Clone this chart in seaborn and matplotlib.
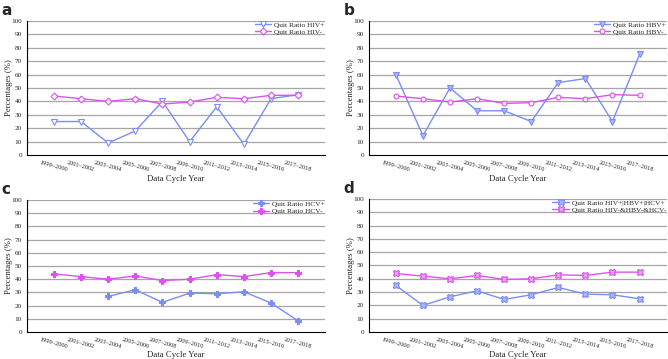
import numpy as np
import pandas as pd
import seaborn as sns
import matplotlib
matplotlib.use("Agg")
import matplotlib.pyplot as plt

cycles = ["1999\u20132000", "2001\u20132002", "2003\u20132004", "2005\u20132006", "2007\u20132008",
          "2009\u20132010", "2011\u20132012", "2013\u20132014", "2015\u20132016", "2017\u20132018"]

hiv_pos = [25, 25, 9, 18, 40, 10, 36, 8, 42, 45]
hiv_neg = [44, 42, 40, 42, 38, 39.5, 43, 42, 44.5, 44.5]
hbv_pos = [60, 14.5, 50, 33, 33, 25, 54, 57, 25, 75]
hbv_neg = [44, 42, 39.5, 42, 38.5, 39, 43, 42, 45, 44.5]
hcv_pos = [np.nan, np.nan, 27, 32, 22.5, 29.5, 29, 30.5, 22, 8.5]
hcv_neg = [44, 42, 40, 42.5, 39, 40, 43.5, 42, 45, 45]
any_pos = [35, 20, 26.5, 31, 24.5, 28, 33.5, 28.5, 28, 25]
all_neg = [44, 42, 40, 42.5, 39.5, 40, 43, 42.5, 45, 45]

blue = "#7b8df7"
magenta = "#dc52ef"

sns.set_style("white")
plt.rcParams["font.family"] = ["Liberation Serif", "DejaVu Serif"]

fig = plt.figure(figsize=(6.68, 3.59), dpi=100)

panels = [
    ("a", [0.040, 0.568, 0.447, 0.374], hiv_pos, hiv_neg, "Quit Ratio HIV+", "Quit Ratio HIV-",
     dict(marker="v", mfc="white", ms=4), dict(marker="D", mfc="white", ms=3.5)),
    ("b", [0.552, 0.568, 0.446, 0.374], hbv_pos, hbv_neg, "Quit Ratio HBV+", "Quit Ratio HBV-",
     dict(marker="v", mfc="#aab6fa", ms=4), dict(marker="o", mfc="white", ms=3.5)),
    ("c", [0.040, 0.075, 0.447, 0.368], hcv_pos, hcv_neg, "Quit Ratio HCV+", "Quit Ratio HCV-",
     dict(marker="P", mfc=blue, ms=4.5), dict(marker="P", mfc=magenta, ms=4.5)),
    ("d", [0.552, 0.075, 0.446, 0.371], any_pos, all_neg, "Quit Ratio HIV+|HBV+|HCV+", "Quit Ratio HIV-&HBV-&HCV-",
     dict(marker="X", mfc="#aab6fa", ms=4.5), dict(marker="X", mfc="#eba2f6", ms=4.5)),
]

x = np.arange(len(cycles))

for letter, rect, pos, neg, lab_pos, lab_neg, mk_pos, mk_neg in panels:
    ax = fig.add_axes(rect)
    for y in range(10, 101, 10):
        ax.axhline(y, color="#a6a6a6", lw=0.9, zorder=0)
    sns.lineplot(x=x, y=pos, ax=ax, color=blue, lw=1.0, label=lab_pos,
                 mec=blue, mew=0.8, **mk_pos)
    sns.lineplot(x=x, y=neg, ax=ax, color=magenta, lw=1.0, label=lab_neg,
                 mec=magenta, mew=0.8, **mk_neg)
    ax.set_xlim(-1, 10)
    ax.set_ylim(0, 100)
    ax.set_yticks(range(0, 101, 10))
    ax.set_yticklabels([str(v) for v in range(0, 101, 10)], fontsize=5.2)
    ax.set_xticks(list(x) + [10])
    ax.set_xticklabels(cycles + [""], fontsize=4.6, rotation=-15, ha="center")
    ax.tick_params(axis="both", direction="out", length=2.5, width=0.7, pad=1.0, color="black")
    for s in ["top", "right"]:
        ax.spines[s].set_visible(False)
    for s in ["left", "bottom"]:
        ax.spines[s].set_color("black")
        ax.spines[s].set_linewidth(0.8)
    ax.set_ylabel("Percentages (%)", fontsize=6.3)
    ax.yaxis.set_label_coords(-0.045, 0.5)
    ax.set_xlabel("Data Cycle Year", fontsize=6.3)
    ax.xaxis.set_label_coords(0.5, -0.145)
    ax.legend(loc="upper right", frameon=False, fontsize=5.3, handlelength=2.2,
              borderpad=0.1, labelspacing=0.15, handletextpad=0.4, borderaxespad=0.0,
              bbox_to_anchor=(1.0, 1.0))
    fig.text(rect[0] - 0.038, rect[1] + rect[3] + 0.03, letter, fontsize=11, fontweight="bold",
             family="DejaVu Sans", va="center", ha="left")

fig.savefig("out.png", dpi=100)
